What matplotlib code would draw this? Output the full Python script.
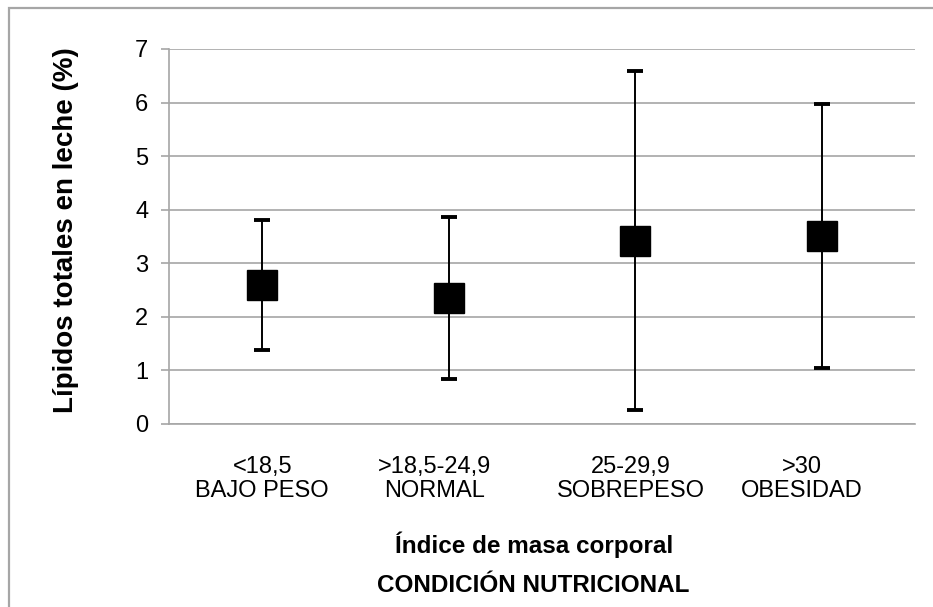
import matplotlib
matplotlib.use("Agg")
import matplotlib.pyplot as plt
import matplotlib.transforms as mtransforms
from matplotlib.patches import Rectangle

# data (mean +/- sd)
categorias = ["<18,5\nBAJO PESO", ">18,5-24,9\nNORMAL", "25-29,9\nSOBREPESO", ">30\nOBESIDAD"]
medias = [2.60, 2.35, 3.42, 3.51]
desv = [1.21, 1.51, 3.16, 2.46]
yticks = [0, 1, 2, 3, 4, 5, 6, 7]

GRIS = "#a6a6a6"
plt.rcParams["font.family"] = ["Liberation Sans", "DejaVu Sans"]

fig = plt.figure(figsize=(9.33, 6.07), dpi=100)
ax = fig.add_axes([0.1811, 0.3015, 0.7996, 0.6178])

x = list(range(len(categorias)))
ax.errorbar(x, medias, yerr=desv, fmt="s", color="black", ms=21, lw=1.4,
            ecolor="black", elinewidth=1.4, capsize=5.5, capthick=2.8, zorder=3)

ax.set_xlim(-0.5, len(categorias) - 0.5)
ax.set_ylim(0, 7)
ax.set_yticks(yticks)
ax.grid(axis="y", color=GRIS, lw=1.2)
ax.set_axisbelow(True)
for s in ["top", "right"]:
    ax.spines[s].set_visible(False)
ax.spines["left"].set_color(GRIS)
ax.spines["left"].set_linewidth(1.2)
ax.spines["bottom"].set_color(GRIS)
ax.spines["bottom"].set_linewidth(1.2)

ax.tick_params(axis="y", length=6, width=1.2, color=GRIS, pad=9, labelsize=17)
ax.set_xticks(x)
ax.set_xticklabels(categorias, fontsize=17, linespacing=1.1)
ax.tick_params(axis="x", length=0, pad=23)

# labels in the original sit a bit left of the points
shifts = [0, -14, -4, -20]
for lab, dx in zip(ax.get_xticklabels(), shifts):
    lab.set_transform(lab.get_transform() + mtransforms.Affine2D().translate(dx, 0))

ax.set_ylabel("Lípidos totales en leche (%)", fontsize=20, fontweight="bold")
ax.yaxis.set_label_coords(-0.12, 0.517)

fig.text(0.572, 0.102, "Índice de masa corporal", fontsize=17.5, fontweight="bold",
         ha="center", va="center")
fig.text(0.572, 0.036, "CONDICIÓN NUTRICIONAL", fontsize=17.5, fontweight="bold",
         ha="center", va="center")

# outer frame (cut off at the right and bottom in the original)
fig.patches.append(Rectangle((9 / 933, -0.05), 1.1, 1.05 - 8 / 607, transform=fig.transFigure,
                             fill=False, edgecolor=GRIS, lw=1.6))

fig.savefig("out.png", dpi=100)
